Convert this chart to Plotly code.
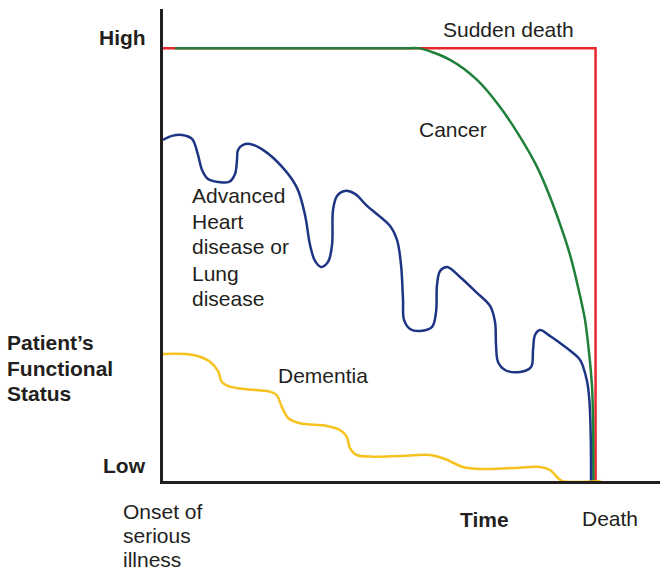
import plotly.graph_objects as go

# Time: 0 = onset of serious illness, 100 = death
# Functional status: 0 = Low, 100 = High
sudden_x = [0, 100, 100]
sudden_y = [100, 100, 0]

cancer_x = [2.8, 30, 50, 56, 59.4, 66.36, 72.60, 77.92, 82.54, 86.47, 89.48, 92.49, 94.10,
            95.95, 97.57, 98.50, 99.19, 99.42, 99.49]
cancer_y = [100, 100, 100, 100, 100, 97.34, 92.72, 86.47, 79.54, 72.60, 65.66, 57.34, 52.25,
            44.86, 37.23, 29.60, 21.73, 14.10, 0]

organ_x = [0, 2.08, 4.39, 6.71, 8.09, 9.02, 10.40, 12.72, 15.26, 16.65, 17.11, 17.34, 18.50,
           20.12, 23.12, 27.75, 30.98, 32.83, 33.99, 35.14, 36.53, 38.15, 39.08, 39.31, 40.23,
           42.08, 44.39, 47.17, 52.49, 54.10, 55.03, 55.49, 55.72, 57.11, 59.42, 62.20, 63.12,
           63.35, 64.05, 65.66, 68.67, 72.60, 75.61, 76.76, 76.99, 77.46, 79.08, 82.54, 85.09,
           85.55, 86.01, 87.17, 89.48, 91.79, 94.80, 96.42, 97.97, 98.57, 98.89, 98.96]
organ_y = [78.84, 79.77, 80.0, 79.08, 75.38, 71.91, 69.83, 69.13, 69.13, 70.98, 74.22, 76.53, 77.69,
           77.92, 76.53, 72.37, 67.75, 61.50, 54.57, 50.87, 49.48, 50.64, 54.57, 62.66, 65.90,
           67.05, 66.36, 63.58, 58.96, 55.72, 49.94, 41.85, 37.23, 35.14, 34.68, 35.61, 39.08,
           45.32, 48.55, 49.48, 47.17, 43.47, 40.46, 36.76, 31.45, 27.51, 25.66, 25.20, 26.36,
           30.29, 33.76, 34.91, 33.53, 31.91, 29.60, 27.98, 23.35, 18.73, 10.17, 0]

dementia_x = [0, 7.0, 10.87, 12.79, 13.57, 15.49, 19.35, 24.74, 26.29, 27.45, 28.97, 31.68, 37.85,
              40.92, 42.47, 43.24, 44.79, 48.62, 54.80, 61.73, 65.20, 69.36, 73.29, 80.92, 87.17,
              89.48, 91.33, 92.25, 101.2]
dementia_y = [29.36, 29.13, 27.58, 25.27, 22.96, 21.80, 21.20, 20.65, 19.88, 17.18, 14.50, 13.34, 12.72,
              11.79, 10.24, 7.56, 6.01, 5.62, 5.78, 6.01, 5.09, 3.24, 2.77, 3.01, 3.24,
              2.54, 0.69, 0, 0]

XMAX, YMAX = 114.9, 109.1
FONT = "Liberation Sans, Arial, Helvetica, sans-serif"
TXT = "#231f20"

fig = go.Figure()
fig.add_trace(go.Scatter(x=sudden_x, y=sudden_y, mode="lines", cliponaxis=False,
                         line=dict(color="#e8262b", width=2.5), hoverinfo="skip"))
fig.add_trace(go.Scatter(x=cancer_x, y=cancer_y, mode="lines", cliponaxis=False,
                         line=dict(color="#1f8039", width=2.5, shape="spline", smoothing=0.8),
                         hoverinfo="skip"))
fig.add_trace(go.Scatter(x=organ_x, y=organ_y, mode="lines", cliponaxis=False,
                         line=dict(color="#1e3584", width=2.5, shape="spline"), hoverinfo="skip"))
fig.add_trace(go.Scatter(x=dementia_x, y=dementia_y, mode="lines", cliponaxis=False,
                         line=dict(color="#f5c21e", width=2.5, shape="spline", smoothing=0.9),
                         hoverinfo="skip"))

def ann(text, x, y, xanchor="left", bold=False):
    # x, y given in data units; placed in paper space so labels outside the axes still show
    fig.add_annotation(text=f"<b>{text}</b>" if bold else text, x=x / XMAX, y=y / YMAX,
                       xref="paper", yref="paper",
                       xanchor=xanchor, yanchor="middle", showarrow=False,
                       borderpad=0, borderwidth=0,
                       font=dict(family=FONT, size=21, color=TXT))

ann("High", -4.0, 102.4, "right", True)
ann("Low", -4.0, 3.5, "right", True)
for t, y in zip(["Patient’s", "Functional", "Status"], [31.9, 26.1, 20.3]):
    ann(t, -36.0, y, "left", True)
ann("Sudden death", 79.8, 104.4, "center")
ann("Cancer", 67.0, 81.3, "center")
for t, y in zip(["Advanced", "Heart", "disease or", "Lung", "disease"], [66.0, 59.9, 54.1, 47.9, 42.1]):
    ann(t, 6.8, y, "left")
ann("Dementia", 26.5, 24.3, "left")
for t, y in zip(["Onset of", "serious", "illness"], [-6.94, -12.49, -18.03]):
    ann(t, -9.2, y, "left")
ann("Time", 74.3, -8.9, "center", True)
ann("Death", 103.4, -8.6, "center")

axis_common = dict(showgrid=False, zeroline=False, showticklabels=False, ticks="",
                   showline=True, linecolor="#231f20", linewidth=2.5, layer="below traces",
                   fixedrange=True)
fig.update_layout(
    width=660, height=572,
    margin=dict(l=163, r=0, t=9, b=91),
    paper_bgcolor="white", plot_bgcolor="white",
    showlegend=False,
    xaxis=dict(range=[0, XMAX], **axis_common),
    yaxis=dict(range=[0, YMAX], **axis_common),
)

fig.write_html("out.html", config={"displayModeBar": False},
               post_script="document.body.style.margin='0px';")
